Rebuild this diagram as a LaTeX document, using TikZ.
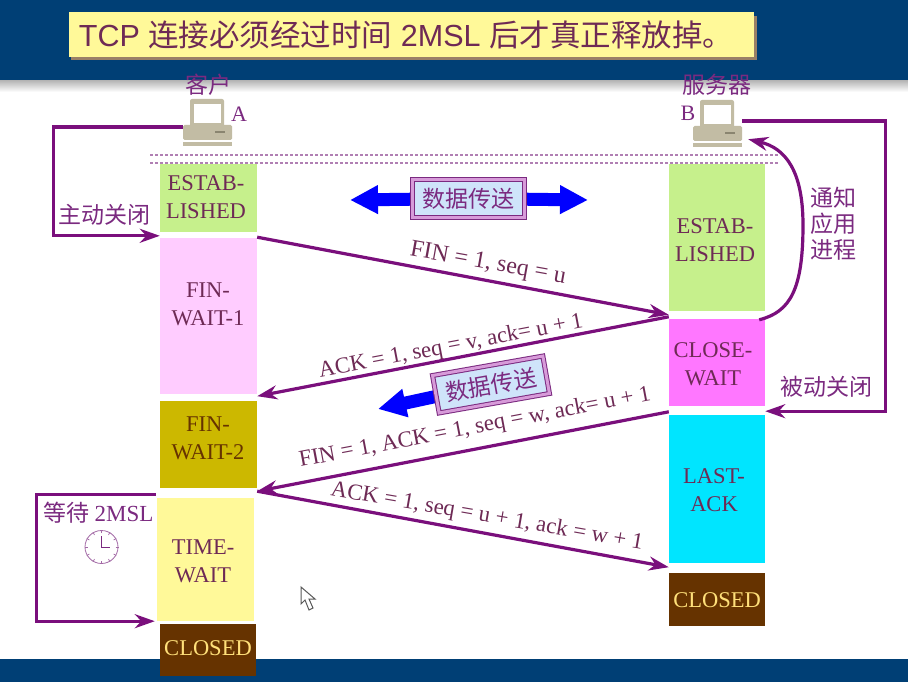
\documentclass[tikz,border=0pt]{standalone}
\usepackage{fontspec}
\setmainfont{Liberation Serif}
\newfontfamily\cjk{Noto Sans CJK SC}
\newfontfamily\hei{Liberation Sans}
\usetikzlibrary{arrows.meta,calc}
\pgfdeclarelayer{bg}
\pgfdeclarelayer{under}
\pgfsetlayers{bg,under,main}
\definecolor{band}{HTML}{003F75}
\definecolor{plum}{HTML}{7A0F7C}
\definecolor{labelc}{HTML}{7B2A80}
\definecolor{statec}{HTML}{6E2A55}
\definecolor{boxgreen}{HTML}{C6F08C}
\definecolor{boxpink}{HTML}{FFCCFF}
\definecolor{boxolive}{HTML}{CCB800}
\definecolor{boxyellow}{HTML}{FFF999}
\definecolor{boxbrown}{HTML}{663300}
\definecolor{boxmag}{HTML}{FF77FF}
\definecolor{boxcyan}{HTML}{00E5FF}
\definecolor{pcbody}{HTML}{C2BCA4}
\definecolor{pcdark}{HTML}{8A8570}
\definecolor{banfill}{HTML}{CFE4FA}
\definecolor{closedtext}{HTML}{FFE07A}
\newcommand{\fsz}[1]{\fontsize{#1}{#1}\selectfont}
\tikzset{
  statebox/.style={inner sep=0pt},
  statetext/.style={inner sep=0pt,align=center,text=statec,font=\fsz{22.5}},
  link/.style={draw=plum,line width=3.2pt,-{Stealth[length=20pt,width=14pt]}},
  seglabel/.style={text=statec,font=\fsz{22.8},inner sep=0pt},
  cnlabel/.style={text=labelc,font=\fsz{23}\cjk,inner sep=0pt,align=center},
  serlabel/.style={text=labelc,font=\fsz{22},inner sep=0pt},
  banner/.style={draw=labelc,line width=1pt,double=boxpink!70!labelc,double distance=3pt,fill=banfill,
     minimum width=112pt,minimum height=38pt,inner sep=0pt,text=labelc,font=\fsz{23}\cjk},
  bluearrow/.style={draw=blue,line width=13pt,-{Triangle[length=28pt,width=27pt]}},
  pc/.style={inner sep=0pt,minimum width=49pt,minimum height=48pt}
}
\newcommand{\computer}[2]{%
  \begin{scope}[shift={(#1,#2)}]
    \fill[pcbody,rounded corners=2pt] (-17,-24) rectangle (17,4);
    \fill[white] (-13,-19) rectangle (14,0);
    \fill[pcbody,rounded corners=1.5pt] (-24,2) rectangle (25,17);
    \fill[pcdark] (8,8) rectangle (18,10);
    \fill[pcbody] (-24,19) rectangle (25,23);
  \end{scope}}
\begin{document}
\begin{tikzpicture}[x=1pt,y=-1pt]
\useasboundingbox (0,0) rectangle (908,682);
\begin{pgfonlayer}{bg}
\fill[white] (0,0) rectangle (908,682);
\shade[top color=gray!70,bottom color=white] (0,78) rectangle (908,92);
\fill[band] (0,0) rectangle (908,80);
\fill[band] (0,659) rectangle (908,682);
\end{pgfonlayer}
% title
\fill[gray!60!brown] (71,16) rectangle (757,60);
\node[fill=boxyellow,minimum width=685pt,minimum height=45pt,inner sep=0pt] (title) at (411,34.5) {};
\node[inner sep=0pt,text=statec] (titlet) at (406,34.5)
  {\hei\fsz{30.5}TCP {\cjk 连接必须经过时间} 2MSL {\cjk 后才真正释放掉。}};
% dotted rules
\coordinate (dotL1) at (150,155); \coordinate (dotR1) at (778,155);
\coordinate (dotL2) at (150,163); \coordinate (dotR2) at (778,163);
\draw[labelc!60,line width=1.5pt,dash pattern=on 2.5pt off 2.5pt] (dotL1) -- (dotR1);
\draw[labelc!60,line width=1.5pt,dash pattern=on 2.5pt off 2.5pt] (dotL2) -- (dotR2);
% computers
\computer{207}{123}
\computer{717}{124}
\node[pc] (pcA) at (207.5,123) {};
\node[pc] (pcB) at (717.5,124) {};
\node[cnlabel] (clientL) at (208,85) {客户};
\node[cnlabel] (serverL) at (717,85) {服务器};
\node[serlabel] (aL) at (239,114) {A};
\node[serlabel] (bL) at (688,113) {B};
% left states
\node[statebox,fill=boxgreen,minimum width=97pt,minimum height=68pt] (estA) at (208.5,198) {};
\node[statebox,fill=boxpink,minimum width=97pt,minimum height=156pt] (fw1) at (208.5,316) {};
\node[statebox,fill=boxolive,minimum width=97pt,minimum height=87pt] (fw2) at (208.5,444.5) {};
\node[statebox,fill=boxyellow,minimum width=97pt,minimum height=123pt] (tw) at (205.5,559.5) {};
\node[statebox,fill=boxbrown,minimum width=96pt,minimum height=52pt] (clA) at (208,650) {};
% right states
\node[statebox,fill=boxgreen,minimum width=96pt,minimum height=147pt] (estB) at (717,237.5) {};
\node[statebox,fill=boxmag,minimum width=96pt,minimum height=87pt] (cw) at (717,362.5) {};
\node[statebox,fill=boxcyan,minimum width=96pt,minimum height=148pt] (la) at (717,489) {};
\node[statebox,fill=boxbrown,minimum width=96pt,minimum height=53pt] (clB) at (717,599.5) {};
% state texts
\node[statetext] (estAt) at (206,197) {ESTAB-\\[5.5pt]LISHED};
\node[statetext] (fw1t) at (208,304) {FIN-\\[5.5pt]WAIT-1};
\node[statetext,text=boxbrown] (fw2t) at (208,438) {FIN-\\[5.5pt]WAIT-2};
\node[statetext] (twt) at (203,561) {TIME-\\[5.5pt]WAIT};
\node[statetext,text=closedtext] (clAt) at (208,648) {CLOSED};
\node[statetext] (estBt) at (715,240) {ESTAB-\\[5.5pt]LISHED};
\node[statetext] (cwt) at (713,364) {CLOSE-\\[5.5pt]WAIT};
\node[statetext] (lat) at (714,490) {LAST-\\[5.5pt]ACK};
\node[statetext,text=closedtext] (clBt) at (717,600) {CLOSED};
% blue arrows and banners
\coordinate (blueL) at (350,200);
\coordinate (blueR) at (588,200);
\coordinate (blueM) at (378,409);
\node[banner] (ban1) at (468.5,198.5) {数据传送};
\node[banner,rotate=10] (ban2) at (491,384.5) {数据传送};
\begin{pgfonlayer}{under}
\draw[bluearrow] (ban1.center) -- (blueL);
\draw[bluearrow] (ban1.center) -- (blueR);
\draw[bluearrow] (ban2.center) -- (blueM);
\end{pgfonlayer}
% connectors
\draw[link] ([yshift=-4pt]pcA.west) -- ++(-129,0) |- ([yshift=2pt]fw1.north west);
\draw[link] ([yshift=-5pt]estA.south east) -- ([yshift=4pt]cw.north west);
\draw[link] ([yshift=2pt]cw.north west) -- ([yshift=-2pt]fw1.south east);
\draw[link] ([yshift=3pt]la.north west) -- ([yshift=-3pt]fw2.south east);
\draw[link] ([yshift=-3pt]fw2.south east) -- ([yshift=-4pt]la.south west);
\draw[link] ([yshift=-1pt,xshift=-6pt]cw.north east) .. controls (790,312) and (803,290) .. (803,225) .. controls (803,170) and (785,148) .. ([yshift=9pt,xshift=6pt]pcB.south east);
\draw[link] ([yshift=3pt]pcB.east) -- ++(143,0) |- ([yshift=-5pt]cw.south east);
\draw[link] ([yshift=3pt,xshift=-1pt]tw.north west) -- ++(-119,0) |- ([xshift=-2pt]tw.south west);
% link labels
\node[seglabel,rotate=-10.2,font=\fsz{24}] (lab1) at (488,264) {FIN = 1, seq = u};
\node[seglabel,rotate=10.8] (lab2) at (451,347) {ACK = 1, seq = v, ack= u + 1};
\node[seglabel,rotate=10.8] (lab3) at (475,428) {FIN = 1, ACK = 1, seq = w, ack= u + 1};
\node[seglabel,rotate=-9.8] (lab4) at (487,517) {ACK = 1, seq = u + 1, ack = w + 1};
% side labels
\node[cnlabel] (zhu) at (104,215) {主动关闭};
\node[cnlabel] (tz) at (833,224) {通知\\[3pt]应用\\[3pt]进程};
\node[cnlabel] (bei) at (826,387) {被动关闭};
\node[cnlabel] (wait) at (98.5,513) {等待 {\rmfamily\fsz{23}2MSL}};
% clock
\node[circle,draw=labelc!70,line width=.8pt,minimum size=33pt,inner sep=0pt] (clock) at (101.5,547) {};
\foreach \a in {0,30,...,330}{\draw[labelc!70,line width=.7pt] ($(clock)+(\a:14)$) -- ($(clock)+(\a:17)$);}
\draw[labelc,line width=1pt] ($(clock)+(0,-11)$) -- (clock.center) -- ($(clock)+(8,0)$);
% cursor
\draw[gray!70!black,fill=white,line width=1pt] (301,587) -- (301,604) -- (305,600) -- (309,610) -- (313,608) -- (309,599) -- (315,599) -- cycle;
\end{tikzpicture}
\end{document}
